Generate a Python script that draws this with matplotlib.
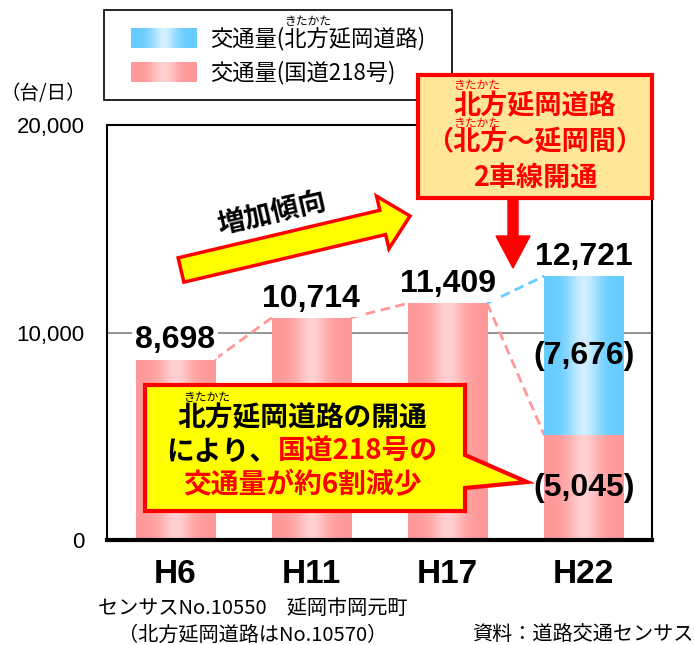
import numpy as np
import matplotlib
matplotlib.use("Agg")
import matplotlib.pyplot as plt
import matplotlib.patches as mpatches
from matplotlib.offsetbox import TextArea, HPacker, AnnotationBbox

plt.rcParams['font.family'] = ['Noto Sans CJK JP', 'DejaVu Sans']

# data
years = ['H6', 'H11', 'H17', 'H22']
route218 = [8698, 10714, 11409, 5045]     # 国道218号
kitakata_h22 = 7676                       # 北方延岡道路 (H22 only)
totals = [8698, 10714, 11409, 12721]
yticks = [0, 10000, 20000]

PINK = (1.0, 0.6, 0.6)
PINK_MID = (1.0, 0.82, 0.82)
BLUE = (0.4, 0.8, 1.0)
BLUE_MID = (0.82, 0.94, 1.0)
NUMFONT = ['Liberation Sans', 'DejaVu Sans']

W, H = 694, 645
fig = plt.figure(figsize=(W / 100, H / 100), dpi=100)
ax = fig.add_axes([107 / W, 1 - 540 / H, 545 / W, 415 / H])

x = np.arange(len(years))
bw = 0.58


def gradient(c_edge, c_mid):
    t = np.linspace(0, 1, 80)
    w = np.exp(-((t - 0.5) / 0.2) ** 2)
    g = (1 - w)[:, None] * np.array(c_edge) + w[:, None] * np.array(c_mid)
    return g[None, :, :]


def shade(bars, c_edge, c_mid):
    img = gradient(c_edge, c_mid)
    for b in bars:
        x0, y0 = b.get_x(), b.get_y()
        im = ax.imshow(img, extent=(x0, x0 + b.get_width(), y0, y0 + b.get_height()),
                       aspect='auto', zorder=b.get_zorder(), interpolation='bilinear')
        im.set_clip_path(b)


pink_bars = ax.bar(x, route218, width=bw, color=PINK, zorder=2)
blue_bars = ax.bar([x[3]], [kitakata_h22], bottom=[route218[3]], width=bw, color=BLUE, zorder=2)
shade(pink_bars, PINK, PINK_MID)
shade(blue_bars, BLUE, BLUE_MID)

# dashed connectors
dash = (0, (3.5, 2))
for i in range(2):
    ax.plot([x[i] + bw / 2, x[i + 1] - bw / 2], [totals[i], totals[i + 1]],
            color=PINK, lw=2, ls=dash, zorder=1.5)
ax.plot([x[2] + bw / 2, x[3] - bw / 2], [totals[2], route218[3]],
        color=PINK, lw=2, ls=dash, zorder=1.5)
ax.plot([x[2] + bw / 2, x[3] - bw / 2], [totals[2], totals[3]],
        color=BLUE, lw=2, ls=dash, zorder=1.5)

# value labels
for i, v in enumerate(totals):
    ax.annotate(f'{v:,}', (x[i], v), xytext=(0, 3), textcoords='offset points',
                ha='center', va='bottom', fontsize=23, fontweight='bold',
                family=NUMFONT, zorder=4,
                bbox=dict(boxstyle='square,pad=0.1', fc='white', ec='none'))
ax.text(x[3], route218[3] + kitakata_h22 / 2, f'({kitakata_h22:,})', ha='center', va='center',
        fontsize=23, fontweight='bold', family=NUMFONT, zorder=4)
ax.text(x[3], route218[3] / 2, f'({route218[3]:,})', ha='center', va='center',
        fontsize=23, fontweight='bold', family=NUMFONT, zorder=4)

ax.set_xlim(-0.5, 3.5)
ax.set_ylim(0, 20000)
ax.set_xticks(x)
ax.set_xticklabels(years, fontsize=24, fontweight='bold', family=NUMFONT)
ax.set_yticks(yticks)
ax.set_yticklabels([f'{v:,}' for v in yticks], fontsize=16, family=NUMFONT)
ax.tick_params(axis='y', length=0, pad=16)
ax.tick_params(axis='x', length=0, pad=14)
ax.grid(axis='y', color='#808080', lw=1.2, zorder=0)
ax.set_axisbelow(True)
for s in ax.spines.values():
    s.set_linewidth(1.5)
ax.spines['bottom'].set_linewidth(3)

# overlay in pixel coordinates for annotations
ov = fig.add_axes([0, 0, 1, 1], zorder=5)
ov.axis('off')

# unit
ov.text(0, 93, '（台/日）', fontsize=14, ha='left', va='center')

# legend
ov.add_patch(mpatches.Rectangle((104, 10), 348, 90, fc='white', ec='black', lw=1.2))
for y0, c, cm, lab in [(28, BLUE, BLUE_MID, '交通量(北方延岡道路)'),
                       (62, PINK, PINK_MID, '交通量(国道218号)')]:
    ov.imshow(gradient(c, cm), extent=(131, 197, y0 + 20, y0), aspect='auto', zorder=6)
    ov.text(210, y0 + 11, lab, fontsize=16, ha='left', va='center', zorder=6)
ov.text(308, 22, 'きたかた', fontsize=8.5, ha='center', va='center', zorder=6)
ov.set_xlim(0, W)
ov.set_ylim(H, 0)

# callout top right
ov.add_patch(mpatches.Rectangle((418, 75), 234, 123, fc='#FFE699', ec='red', lw=3, zorder=6))
for yy, s in [(106, '北方延岡道路'), (142, '（北方～延岡間）'), (178, '2車線開通')]:
    ov.text(535, yy, s, color='red', fontsize=19.5, fontweight='bold', ha='center', va='center', zorder=7)
ov.text(477, 86, 'きたかた', color='red', fontsize=8.5, ha='center', va='center', zorder=7)
ov.text(477, 123, 'きたかた', color='red', fontsize=8.5, ha='center', va='center', zorder=7)
ov.add_patch(mpatches.FancyArrow(513, 198, 0, 70, width=10, head_width=34, head_length=32,
                                 length_includes_head=True, color='red', zorder=6))

# increase arrow
ov.add_patch(mpatches.FancyArrow(181, 270, 229, -54, width=25, head_width=54, head_length=28,
                                 length_includes_head=True, fc='#FFFF00', ec='red', lw=2.5,
                                 joinstyle='miter', zorder=6))
ov.text(272, 214, '増加傾向', fontsize=20, fontweight='bold', rotation=13,
        ha='center', va='center', rotation_mode='anchor', zorder=7)

# callout bottom
poly = [(145, 385), (465, 385), (465, 455), (527, 482), (465, 488), (465, 511), (145, 511)]
ov.add_patch(mpatches.Polygon(poly, closed=True, fc='#FFFF00', ec='red', lw=3,
                              joinstyle='miter', zorder=6))
ov.text(302, 418, '北方延岡道路の開通', fontsize=20, fontweight='bold', ha='center', va='center', zorder=7)
ov.text(207, 397, 'きたかた', fontsize=8.5, ha='center', va='center', zorder=7)
line2 = HPacker(children=[TextArea('により、', textprops=dict(fontsize=20, fontweight='bold', color='black')),
                          TextArea('国道218号の', textprops=dict(fontsize=20, fontweight='bold', color='red'))],
                pad=0, sep=0, align='baseline')
ov.add_artist(AnnotationBbox(line2, (302, 452), frameon=False, box_alignment=(0.5, 0.5),
                             pad=0, zorder=7))
ov.text(302, 485, '交通量が約6割減少', color='red', fontsize=20, fontweight='bold',
        ha='center', va='center', zorder=7)

# notes
ov.text(98, 608, 'センサスNo.10550　延岡市岡元町', fontsize=14.5, ha='left', va='center')
ov.text(118, 635, '（北方延岡道路はNo.10570）', fontsize=14.5, ha='left', va='center')
ov.text(693, 635, '資料：道路交通センサス', fontsize=14.5, ha='right', va='center')

fig.savefig('out.png', dpi=100)
